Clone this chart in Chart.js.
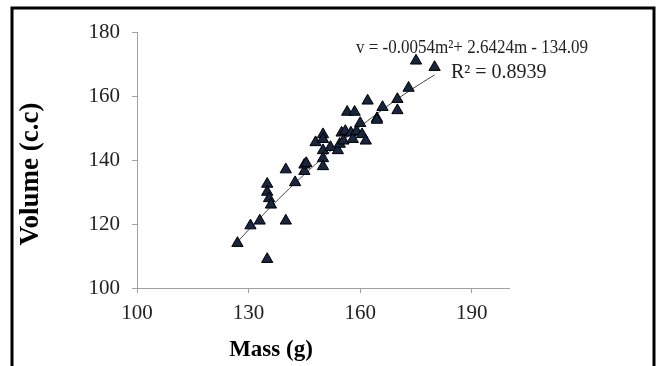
<!DOCTYPE html>
<html>
<head>
<meta charset="utf-8">
<script src="https://cdn.jsdelivr.net/npm/chart.js@4"></script>
<style>
  html, body { margin: 0; padding: 0; background: #fff; }
  #wrap { width: 657px; height: 366px; position: relative; }
</style>
</head>
<body>
<div id="wrap"><canvas id="myChart" width="657" height="366"></canvas></div>
<script>
// mass (g) / volume (c.c) pairs
const mass = [127, 130.5, 133, 135, 140, 135, 135, 135.5, 136, 140,
    142.5, 145, 145, 145.5, 148, 150, 150, 150, 150, 150,
    152, 154, 154.5, 155, 155.5, 156, 156.5, 157.5, 158, 158.5,
    159, 160, 160.5, 161.5, 162, 164.5, 164.5, 166, 170, 170,
    173, 175, 180];
const volume = [114, 119.5, 121, 109, 121, 132.5, 130, 128, 126, 137,
    133, 136.5, 138.5, 139, 145.5, 148, 146.5, 143, 140.5, 138,
    144, 143, 145, 148.5, 146, 149, 155, 148.5, 146.5, 155,
    149, 151.5, 148, 146, 158.5, 153, 152.5, 156.5, 159, 155.5,
    162.5, 171, 169];

// trendline coefficients shown on the chart: v = a*m^2 + b*m + c
const trendCoef = [-0.0054, 2.6424, -134.09];
const trendRange = [127, 180];

const xTicks = [100, 130, 160, 190];
const yTicks = [100, 120, 140, 160, 180];

const equationText = 'v = -0.0054m\u00b2+ 2.6424m - 134.09';
const r2Text = 'R\u00b2 = 0.8939';

const points = mass.map((m, i) => ({ x: m, y: volume[i] }));
const trend = [];
for (let m = trendRange[0]; m <= trendRange[1]; m += 1) {
    trend.push({ x: m, y: trendCoef[0] * m * m + trendCoef[1] * m + trendCoef[2] });
}

const serif = "'Liberation Serif', 'Times New Roman', serif";

// frame, axis titles and the equation label
const decor = {
    id: 'decor',
    beforeDraw(chart) {
        const ctx = chart.ctx;
        ctx.save();
        ctx.fillStyle = '#fff';
        ctx.fillRect(0, 0, chart.width, chart.height);
        ctx.restore();
    },
    afterDraw(chart) {
        const ctx = chart.ctx;
        ctx.save();
        ctx.strokeStyle = '#000';
        ctx.lineWidth = 3;
        ctx.strokeRect(12, 8, 642, 380);

        ctx.fillStyle = '#000';
        ctx.font = 'bold 23px ' + serif;
        ctx.textAlign = 'center';
        ctx.textBaseline = 'middle';
        ctx.fillText('Mass (g)', 271, 350);
        ctx.font = 'bold 27px ' + serif;
        ctx.translate(31, 174);
        ctx.rotate(-Math.PI / 2);
        ctx.fillText('Volume (c.c)', 0, 0);
        ctx.setTransform(1, 0, 0, 1, 0, 0);

        ctx.textAlign = 'left';
        ctx.textBaseline = 'alphabetic';
        ctx.fillStyle = '#222';
        ctx.font = '19.5px ' + serif;
        ctx.fillText(equationText, 356, 53, 232);
        ctx.font = '20px ' + serif;
        ctx.fillText(r2Text, 451, 78);
        ctx.restore();
    }
};

function initChart() {
    const ctx = document.getElementById('myChart').getContext('2d');
    new Chart(ctx, {
        type: 'scatter',
        data: {
            datasets: [{
                label: 'Volume',
                data: points,
                pointStyle: 'triangle',
                pointRadius: 6.5,
                backgroundColor: '#17253f',
                borderColor: '#000',
                borderWidth: 1,
                order: 1
            }, {
                label: 'Trend',
                data: trend,
                showLine: true,
                pointRadius: 0,
                borderColor: '#444',
                borderWidth: 1,
                order: 2
            }]
        },
        plugins: [decor],
        options: {
            responsive: false,
            animation: false,
            layout: { padding: { left: 0, top: 32, right: 148, bottom: 0 } },
            plugins: {
                legend: { display: false },
                tooltip: { enabled: false }
            },
            scales: {
                x: {
                    type: 'linear',
                    min: 100,
                    max: 200,
                    afterBuildTicks: (s) => { s.ticks = xTicks.map(v => ({ value: v })); },
                    afterFit: (s) => { s.height = 78; },
                    grid: { drawOnChartArea: false, tickLength: 5, color: '#a0a0a0' },
                    border: { color: '#a0a0a0' },
                    ticks: { padding: 8, color: '#222', font: { family: serif, size: 21 } }
                },
                y: {
                    min: 100,
                    max: 180,
                    afterBuildTicks: (s) => { s.ticks = yTicks.map(v => ({ value: v })); },
                    afterFit: (s) => { s.width = 137; },
                    grid: { drawOnChartArea: false, tickLength: 5, color: '#a0a0a0' },
                    border: { color: '#a0a0a0' },
                    ticks: { padding: 12, color: '#222', font: { family: serif, size: 21 } }
                }
            }
        }
    });
}

initChart();
</script>
</body>
</html>
